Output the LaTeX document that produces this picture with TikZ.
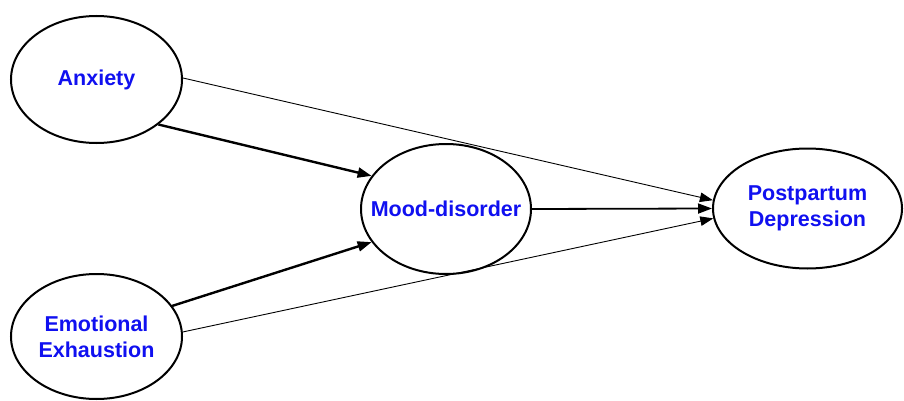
\documentclass[tikz,border=0pt]{standalone}
\usepackage{fontspec}
\setmainfont{Liberation Sans}
\usepackage{xcolor}
\usepackage{tikz}
\usetikzlibrary{shapes.geometric, arrows.meta}
\definecolor{labelblue}{HTML}{1010F0}
\tikzset{
  construct/.style={ellipse, draw=black, line width=2pt, fill=white, align=center, inner xsep=-24pt, inner ysep=0pt, text=labelblue, font=\fontsize{21.5}{26}\selectfont\bfseries},
  mainpath/.style={-{Triangle[length=14pt,width=10pt]}, line width=2.4pt},
  medpath/.style={-{Triangle[length=14pt,width=10pt]}, line width=1.8pt},
  directpath/.style={-{Triangle[length=13pt,width=9.5pt]}, line width=0.9pt},
}
\begin{document}
\begin{tikzpicture}[x=1pt, y=-1pt]
  \useasboundingbox (0,0) rectangle (904,401);
  \node[construct, minimum width=171pt, minimum height=127pt] (anx) at (96.5,79.5) {Anxiety};
  \node[construct, minimum width=171pt, minimum height=125pt] (emo) at (96.5,336.5) {Emotional\\Exhaustion};
  \node[construct, minimum width=170pt, minimum height=130pt] (mood) at (446,209) {Mood-disorder};
  \node[construct, minimum width=189pt, minimum height=120pt] (ppd) at (807.5,208.5) {Postpartum\\Depression};

  \draw[mainpath] (anx.-36) -- (mood.156);
  \draw[mainpath] (emo.22) -- (mood.204);
  \draw[medpath] (mood.east) -- (ppd.west);
  \draw[directpath] (anx.1) -- (ppd.175);
  \draw[directpath] (emo.3) -- (ppd.186);
\end{tikzpicture}
\end{document}
